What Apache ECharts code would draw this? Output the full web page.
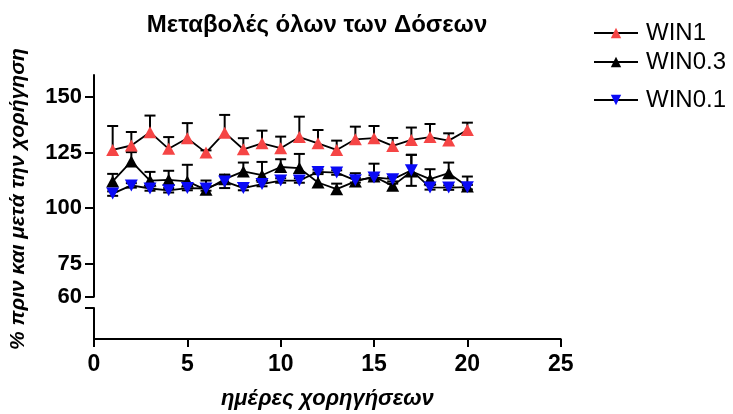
<!DOCTYPE html>
<html>
<head>
<meta charset="utf-8">
<script src="https://cdn.jsdelivr.net/npm/echarts@6/dist/echarts.min.js"></script>
<style>
  html, body { margin: 0; padding: 0; background: #fff; }
  #chart { width: 733px; height: 414px; }
</style>
</head>
<body>
<div id="chart"></div>
<script>
// Days of administration
const days = [1, 2, 3, 4, 5, 6, 7, 8, 9, 10, 11, 12, 13, 14, 15, 16, 17, 18, 19, 20];

// Mean % change and error (SEM) per dose group
const win1Mean = [126.2, 128.2, 134.2, 126.7, 131.5, 125.0, 134.0, 126.5, 129.2, 127.0, 132.0, 129.2, 126.2, 131.0, 131.5, 128.0, 130.7, 132.0, 130.4, 135.2];
const win1Err  = [10.8, 6.1, 7.5, 5.3, 6.8, 1.0, 8.0, 5.0, 5.7, 5.2, 9.2, 6.0, 4.2, 5.7, 5.5, 3.6, 5.6, 5.9, 3.3, 3.3];

const win03Mean = [112.0, 121.0, 112.4, 112.7, 112.0, 108.2, 113.0, 116.5, 114.8, 118.5, 118.0, 111.5, 108.5, 112.0, 114.2, 110.0, 116.5, 113.0, 115.7, 109.7];
const win03Err  = [3.4, 4.2, 3.9, 4.1, 7.5, 4.2, 2.0, 4.0, 6.0, 3.5, 6.4, 4.5, 2.5, 3.7, 5.8, 1.0, 7.5, 4.5, 4.8, 4.5];

const win01Mean = [106.5, 110.2, 108.8, 108.0, 109.0, 108.8, 112.0, 109.0, 110.8, 112.4, 112.4, 116.3, 116.0, 112.5, 113.8, 113.0, 117.0, 109.3, 109.2, 109.4];
const win01Err  = [1, 1, 1, 1, 1, 1, 3, 1, 1, 1, 1, 1, 1, 1, 1, 1, 7, 1, 1, 1];

// Axis ticks
const yTicks = [60, 75, 100, 125, 150];
const xTicks = [0, 5, 10, 15, 20, 25];

const seriesNames = ['WIN1', 'WIN0.3', 'WIN0.1'];

const FONT = 'Liberation Sans, Arial, sans-serif';
const downTriangle = 'path://M0,0 L10,0 L5,9 Z';

// Vertical error bars with caps; upper-only when bothWays is false
function errorBars(mean, err, bothWays) {
  return {
    type: 'custom',
    xAxisIndex: 0,
    yAxisIndex: 0,
    silent: true,
    z: 1,
    data: days.map((d, i) => [d, bothWays ? mean[i] - err[i] : mean[i], mean[i] + err[i]]),
    renderItem: function (params, api) {
      const x = api.value(0);
      const lo = api.coord([x, api.value(1)]);
      const hi = api.coord([x, api.value(2)]);
      const w = 5.5;
      const st = { stroke: '#000', lineWidth: 2 };
      const kids = [
        { type: 'line', shape: { x1: lo[0], y1: lo[1], x2: hi[0], y2: hi[1] }, style: st },
        { type: 'line', shape: { x1: hi[0] - w, y1: hi[1], x2: hi[0] + w, y2: hi[1] }, style: st }
      ];
      if (bothWays) {
        kids.push({ type: 'line', shape: { x1: lo[0] - w, y1: lo[1], x2: lo[0] + w, y2: lo[1] }, style: st });
      }
      return { type: 'group', children: kids };
    }
  };
}

function lineSeries(name, mean, color, symbol) {
  return {
    name: name,
    type: 'line',
    xAxisIndex: 0,
    yAxisIndex: 0,
    data: days.map((d, i) => [d, mean[i]]),
    symbol: symbol,
    symbolSize: [13, 12],
    showAllSymbol: true,
    itemStyle: { color: color },
    lineStyle: { color: '#000', width: 1.8 },
    emphasis: { disabled: true },
    z: 2
  };
}

function legendAt(name, top) {
  return {
    data: [name],
    left: 593,
    top: top,
    padding: 0,
    itemWidth: 44,
    itemHeight: 13,
    itemGap: 0,
    selectedMode: false,
    textStyle: { fontFamily: FONT, fontSize: 24, color: '#000', padding: [0, 0, 0, 3] }
  };
}

const chart = echarts.init(document.getElementById('chart'));
chart.setOption({
  animation: false,
  backgroundColor: '#fff',
  title: {
    text: 'Μεταβολές όλων των Δόσεων',
    left: 312,
    textAlign: 'center',
    top: 8,
    textStyle: { fontFamily: FONT, fontSize: 24, fontWeight: 'bold', color: '#000' }
  },
  legend: [
    legendAt(seriesNames[0], 21),
    legendAt(seriesNames[1], 50),
    legendAt(seriesNames[2], 88)
  ],
  graphic: [{
    type: 'text',
    x: 18,
    y: 199,
    rotation: Math.PI / 2,
    style: {
      text: '% πριν και μετά την χορήγηση',
      font: 'italic bold 21px ' + FONT,
      fill: '#000',
      textAlign: 'center',
      textVerticalAlign: 'middle'
    }
  }],
  grid: [
    { left: 94, top: 75, width: 466.7, height: 221.7, outerBoundsMode: 'none' },
    { left: 94, top: 308, width: 466.7, height: 31, outerBoundsMode: 'none' }
  ],
  xAxis: [
    {
      gridIndex: 0, type: 'value', min: 0, max: 25, show: false
    },
    {
      gridIndex: 1, type: 'value', min: 0, max: 25, interval: 5,
      axisLine: { show: true, lineStyle: { color: '#000', width: 2 } },
      axisTick: { show: true, length: 8, inside: false, lineStyle: { color: '#000', width: 2 } },
      axisLabel: {
        margin: 14, color: '#000', fontFamily: FONT, fontSize: 23, fontWeight: 'bold',
        customValues: xTicks
      },
      splitLine: { show: false },
      name: 'ημέρες χορηγήσεων',
      nameLocation: 'middle',
      nameGap: 49,
      nameTextStyle: { fontFamily: FONT, fontSize: 22, fontWeight: 'bold', fontStyle: 'italic', color: '#000' }
    }
  ],
  yAxis: [
    {
      gridIndex: 0, type: 'value', min: 60, max: 160,
      axisLine: { show: true, lineStyle: { color: '#000', width: 2 } },
      axisTick: { show: true, length: 9, customValues: yTicks, lineStyle: { color: '#000', width: 2 } },
      axisLabel: {
        margin: 12, color: '#000', fontFamily: FONT, fontSize: 22, fontWeight: 'bold',
        customValues: yTicks
      },
      splitLine: { show: false }
    },
    {
      gridIndex: 1, type: 'value', min: 0, max: 1,
      axisLine: { show: true, lineStyle: { color: '#000', width: 2 } },
      axisTick: { show: true, length: 9, customValues: [1], lineStyle: { color: '#000', width: 2 } },
      axisLabel: { show: false },
      splitLine: { show: false }
    }
  ],
  series: [
    errorBars(win03Mean, win03Err, false),
    errorBars(win01Mean, win01Err, true),
    errorBars(win1Mean, win1Err, false),
    lineSeries(seriesNames[1], win03Mean, '#000000', 'triangle'),
    lineSeries(seriesNames[2], win01Mean, '#0a0af5', downTriangle),
    lineSeries(seriesNames[0], win1Mean, '#f54545', 'triangle')
  ]
});
</script>
</body>
</html>
